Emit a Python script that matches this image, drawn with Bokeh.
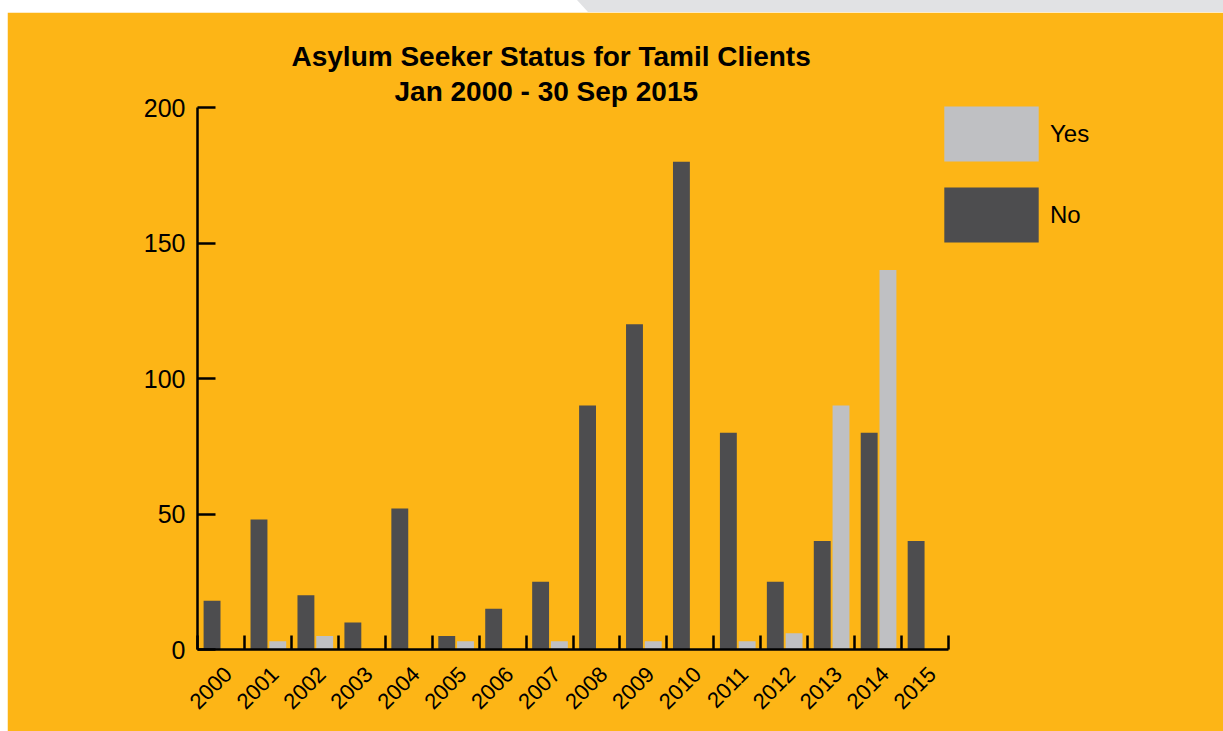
import math
from bokeh.plotting import figure
from bokeh.models import (ColumnDataSource, Legend, LegendItem, Title, FixedTicker, Div)
from bokeh.layouts import column
from bokeh.embed import file_html
from bokeh.resources import INLINE

years = [str(y) for y in range(2000, 2016)]
no_vals = [18, 48, 20, 10, 52, 5, 15, 25, 90, 120, 180, 80, 25, 40, 80, 40]
yes_vals = [0, 3, 5, 0, 0, 3, 0, 3, 0, 3, 0, 3, 6, 90, 140, 0]
y_ticks = [0, 50, 100, 150, 200]

ORANGE = "#FDB516"
NO_COL = "#4D4D4F"
YES_COL = "#BFC0C3"
FONT = "Liberation Sans"

idx = list(range(len(years)))
src = ColumnDataSource(dict(
    x_no=[i + 0.31 for i in idx],
    x_yes=[i + 0.71 for i in idx],
    no=no_vals, yes=yes_vals,
))

p = figure(frame_width=751, frame_height=542, x_range=(0, len(years)), y_range=(0, 200),
           output_backend="svg", toolbar_location=None,
           min_border_left=190, min_border_right=275,
           min_border_top=95, min_border_bottom=82)
p.margin = (0, 0, 0, 7)
p.background_fill_color = ORANGE
p.border_fill_color = ORANGE
p.outline_line_color = ORANGE
p.outline_line_width = 2
p.xgrid.grid_line_color = None
p.ygrid.grid_line_color = None

r_no = p.vbar(x="x_no", top="no", width=0.36, source=src, fill_color=NO_COL, line_color=None)
r_yes = p.vbar(x="x_yes", top="yes", width=0.36, source=src, fill_color=YES_COL, line_color=None)

# x axis
xa = p.xaxis[0]
xa.ticker = FixedTicker(ticks=[i + 0.65 for i in idx], minor_ticks=list(range(len(years) + 1)))
xa.major_label_overrides = {i + 0.65: y for i, y in zip(idx, years)}
xa.major_tick_in = 0
xa.major_tick_out = 0
xa.minor_tick_in = 14
xa.minor_tick_out = 0
xa.minor_tick_line_width = 2.5
xa.minor_tick_line_color = "black"
xa.axis_line_width = 2.5
xa.axis_line_color = "black"
xa.major_label_orientation = math.pi / 4
xa.major_label_text_font = FONT
xa.major_label_text_font_size = "22px"
xa.major_label_text_color = "black"
xa.major_label_standoff = 21

ya = p.yaxis[0]
ya.ticker = FixedTicker(ticks=y_ticks)
ya.major_tick_in = 18
ya.major_tick_out = 0
ya.minor_tick_in = 0
ya.minor_tick_out = 0
ya.major_tick_line_width = 2.5
ya.axis_line_width = 2.5
ya.axis_line_color = "black"
ya.major_tick_line_color = "black"
ya.major_label_text_font = FONT
ya.major_label_text_font_size = "25px"
ya.major_label_text_color = "black"
ya.major_label_standoff = 12

# titles
t2 = Title(text="Jan 2000 - 30 Sep 2015", align="left", offset=197,
           text_font=FONT, text_font_size="28px", text_font_style="bold",
           text_color="black", standoff=2)
t1 = Title(text="Asylum Seeker Status for Tamil Clients", align="left", offset=94,
           text_font=FONT, text_font_size="28px", text_font_style="bold",
           text_color="black", standoff=2)
p.add_layout(t2, "above")
p.add_layout(t1, "above")

legend = Legend(items=[LegendItem(label="Yes", renderers=[r_yes]),
                       LegendItem(label="No", renderers=[r_no])],
                location=(-16, 400), orientation="vertical",
                glyph_width=118, glyph_height=69, spacing=12,
                label_standoff=0, padding=0, margin=0,
                border_line_alpha=0, background_fill_alpha=0,
                label_text_font=FONT, label_text_font_size="24px",
                label_text_color="black")
p.add_layout(legend, "right")

top = Div(text="", width=1223, height=12, margin=0,
          styles={"background-color": "#E1E2E4",
                  "clip-path": "polygon(577px 0, 100% 0, 100% 100%, 588px 100%)"})

layout = column(top, p, spacing=0)
open("out.html", "w").write(file_html(layout, INLINE))
